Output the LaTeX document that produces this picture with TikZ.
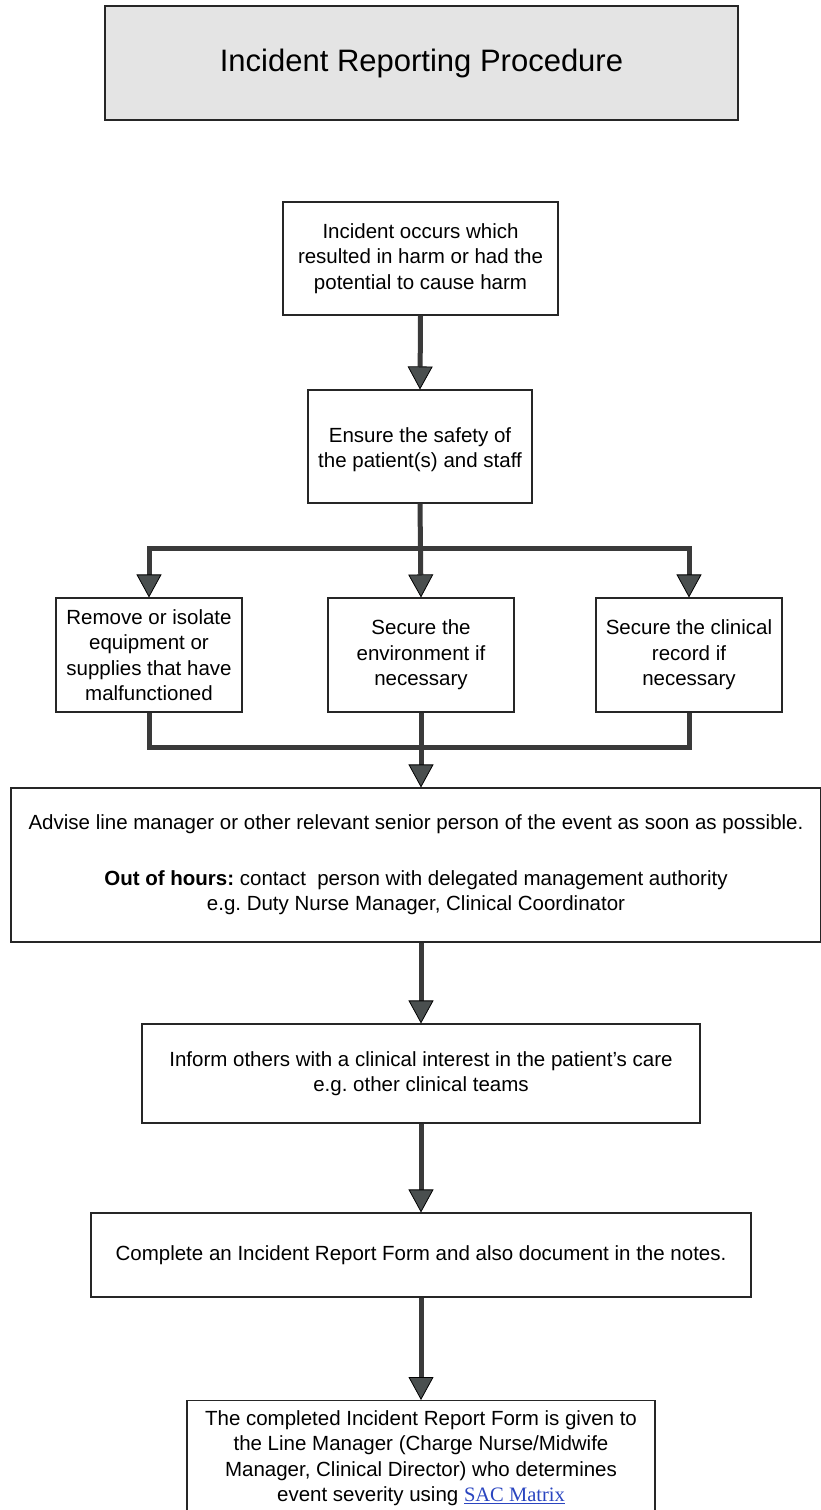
\documentclass[tikz,border=0pt]{standalone}
\usepackage{fontspec}
\setmainfont{Liberation Sans}
\newfontfamily\seriffont{Liberation Serif}
\usetikzlibrary{arrows.meta}
\definecolor{shaftc}{HTML}{3A3A3A}
\definecolor{headc}{HTML}{4A4F4F}
\definecolor{titlebg}{HTML}{E4E4E4}
\definecolor{linkblue}{HTML}{2A45C0}
\frenchspacing
\begin{document}
\begin{tikzpicture}[x=1pt,y=-1pt,
  box/.style={draw=black!85, line width=1.1pt, fill=white, align=center,
    font=\fontsize{20.5}{25.5}\selectfont, inner sep=0pt},
  shaft/.style={draw=shaftc, line width=5pt},
  arr/.style={shaft, -{Triangle[width=25pt,length=23pt,fill=headc,color=black,line width=0.8pt]}}]
\useasboundingbox (0,0) rectangle (821,1510);
\clip (0,0) rectangle (821,1510);

% title
\node[draw=black!85, line width=1.1pt, fill=titlebg, minimum width=633pt, minimum height=114pt,
  font=\fontsize{31}{36}\selectfont] (title) at (421.5,63) {Incident Reporting Procedure};

% boxes
\node[box, minimum width=275pt, minimum height=113pt] (b1) at (420.5,258.5)
  {Incident occurs which\\resulted in harm or had the\\potential to cause harm};
\node[box, minimum width=224pt, minimum height=113pt] (b2) at (420,446.5)
  {\rule{0pt}{21pt}Ensure the safety of\\the patient(s) and staff};
\node[box, minimum width=186pt, minimum height=114pt] (b3) at (149,655)
  {Remove or isolate\\equipment or\\supplies that have\\malfunctioned};
\node[box, minimum width=186pt, minimum height=114pt] (b4) at (421,655)
  {Secure the\\environment if\\necessary};
\node[box, minimum width=186pt, minimum height=114pt] (b5) at (689,655)
  {Secure the clinical\\record if\\necessary};
\node[box, minimum width=810pt, minimum height=154pt] (b6) at (416,865)
  {Advise line manager or other relevant senior person of the event as soon as possible.\\[30pt]
   \textbf{Out of hours:} contact\ \ person with delegated management authority\\
   e.g. Duty Nurse Manager, Clinical Coordinator};
\node[box, minimum width=558pt, minimum height=99pt] (b7) at (421,1073.5)
  {Inform others with a clinical interest in the patient's care\\e.g. other clinical teams};
\node[box, minimum width=660pt, minimum height=84pt] (b8) at (421,1255)
  {Complete an Incident Report Form and also document in the notes.};
\node[box, minimum width=468pt, anchor=north, inner ysep=10pt] (b9) at (421,1400)
  {The completed Incident Report Form is given to\\
   the Line Manager (Charge Nurse/Midwife\\
   Manager, Clinical Director) who determines\\
   event severity using {\seriffont\color{linkblue}\underline{SAC Matrix}}\\[30pt]\mbox{}};

% junctions
\coordinate (j1) at (421,548);
\coordinate (m1) at (421,747);

% connectors
\draw[arr] (b1.south) -- (b2.north);
\draw[arr] (b2.south) -- (b4.north);
\draw[arr] (j1) -| (b3.north);
\draw[arr] (j1) -| (b5.north);
\draw[shaft] (b3.south) |- (m1);
\draw[shaft] (b5.south) |- (m1);
\draw[arr] (b4.south) -- (b4.south |- b6.north);
\draw[arr] (b6.south -| b7.north) -- (b7.north);
\draw[arr] (b7.south) -- (b8.north);
\draw[arr] (b8.south) -- (b9.north);
\end{tikzpicture}
\end{document}
